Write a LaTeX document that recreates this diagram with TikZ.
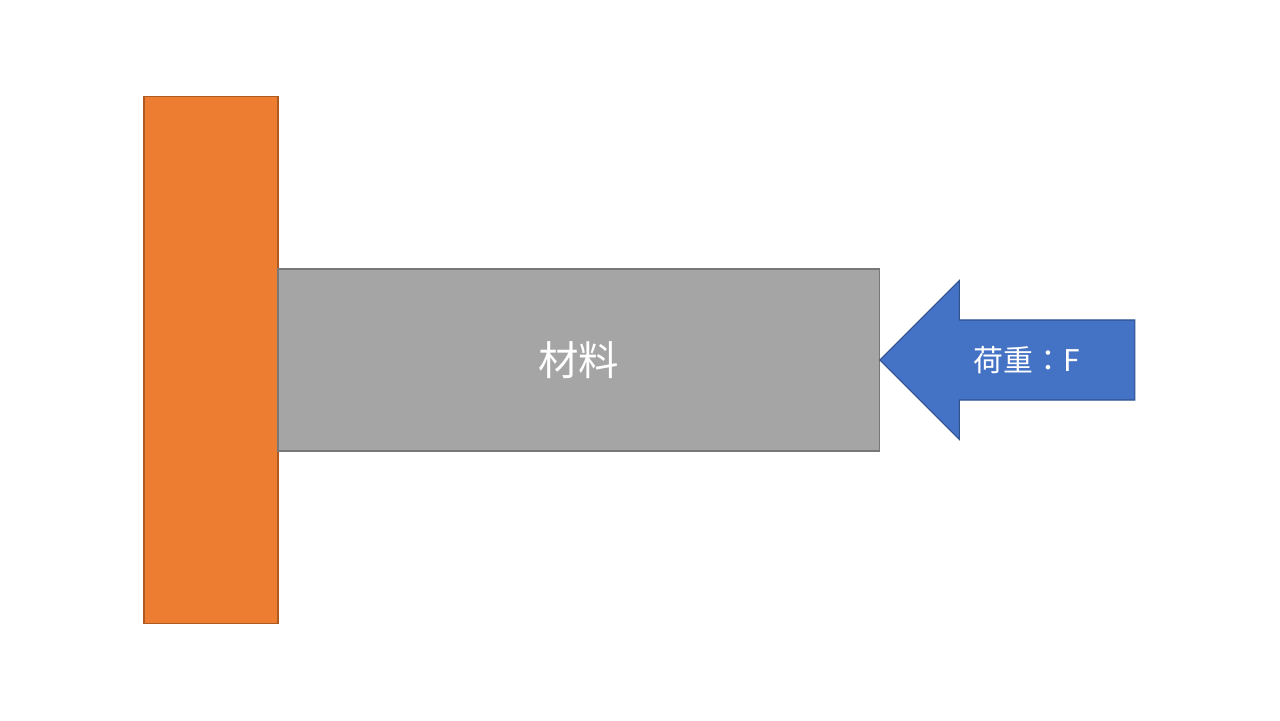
\documentclass[tikz,border=0pt]{standalone}
\usepackage{fontspec}
\newfontfamily\jp{Noto Sans CJK JP}
\usetikzlibrary{positioning,shapes.arrows}

\definecolor{wallfill}{HTML}{ED7D31}
\definecolor{walldraw}{HTML}{AE5A21}
\definecolor{barfill}{HTML}{A5A5A5}
\definecolor{bardraw}{HTML}{787878}
\definecolor{loadfill}{HTML}{4472C4}
\definecolor{loaddraw}{HTML}{2F528F}

\tikzstyle{wall} = [draw=walldraw, rectangle, line width=0.6pt, outer sep=0pt, minimum width=2.68cm, minimum height=10.56cm, fill=wallfill]
\tikzstyle{bar} = [draw=bardraw, rectangle, line width=0.6pt, outer sep=0pt, minimum width=12.04cm, minimum height=3.64cm, fill=barfill, text=white, font=\jp\fontsize{23}{27}\selectfont]
\tikzstyle{load} = [draw=loaddraw, single arrow, shape border rotate=180, line width=0.6pt, outer sep=0pt, minimum height=5.1cm, inner xsep=0pt, inner ysep=0.79cm, single arrow head extend=0.79cm, single arrow head indent=0pt, fill=loadfill]
\tikzstyle{label} = [text=white, font=\jp\fontsize{17}{20}\selectfont]

\begin{document}
\begin{tikzpicture}[x=0.02cm,y=-0.02cm]
\useasboundingbox (0,0) rectangle (1280,720);
\node[wall] (wall) at (211,360) {};
\node[bar,right=0pt of wall] (material) {材料};
\node[load,anchor=tip] (F) at (material.east) {};
\node[label] (Flabel) at (1027,360) {荷重：F};

\end{tikzpicture}
\end{document}
